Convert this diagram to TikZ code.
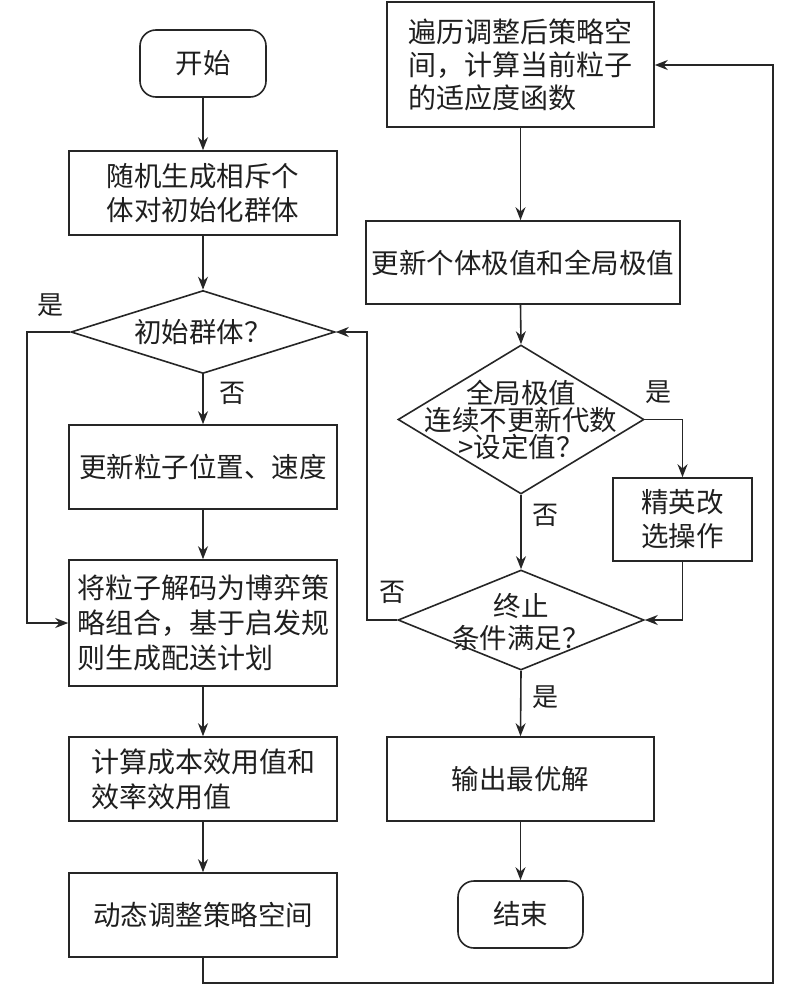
\documentclass[tikz,border=0pt]{standalone}
\usepackage{fontspec}
\newfontfamily\cjk{Noto Sans CJK SC}
\usetikzlibrary{shapes.geometric,arrows.meta}
\tikzset{
  base/.style={draw=black!85, line width=1.6pt, inner sep=0pt, font=\cjk\fontsize{27.5}{34}\selectfont, text=black!88},
  proc/.style={base, rectangle, minimum width=268pt, minimum height=84pt, align=left},
  term/.style={base, rectangle, rounded corners=16pt, minimum width=126pt, minimum height=67pt},
  dia/.style={base, diamond},
  txt/.style={inner sep=0pt, font=\cjk\fontsize{27.5}{34}\selectfont, text=black!88, align=center},
  lbl/.style={inner sep=0pt, font=\cjk\fontsize{26}{30}\selectfont, text=black!88},
  conn/.style={draw=black!85, line width=1.6pt, -{Stealth[length=13pt,width=10pt]}},
  plain/.style={draw=black!85, line width=1.6pt}
}
\begin{document}
\begin{tikzpicture}[x=1pt,y=-1pt]
\useasboundingbox[fill=white] (0,0) rectangle (800,985);
% left column
\node[term] (start) at (203,63.5) {开始};
\node[proc] (b1) at (203,193) {随机生成相斥个\\体对初始化群体};
\node[dia, minimum width=264pt, minimum height=83pt] (d1) at (203,332) {};
\node[txt] at (d1) {初始群体？};
\node[proc] (b2) at (203,467) {更新粒子位置、速度};
\node[proc, minimum height=126pt, font=\cjk\fontsize{28}{35}\selectfont] (b3) at (203,623) {将粒子解码为博弈策\\略组合，基于启发规\\则生成配送计划};
\node[proc, font=\cjk\fontsize{28}{35}\selectfont] (b4) at (203,779) {计算成本效用值和\\效率效用值};
\node[proc] (b5) at (203,915) {动态调整策略空间};
% right column
\node[proc, minimum width=267pt, minimum height=125pt, font=\cjk\fontsize{28}{33}\selectfont] (r1) at (520.5,64.5) {遍历调整后策略空\\间，计算当前粒子\\的适应度函数};
\node[proc, minimum width=314pt, minimum height=83pt] (r2) at (523,262.5) {更新个体极值和全局极值};
\node[dia, minimum width=246pt, minimum height=149pt] (d2) at (521,419.5) {};
\node[txt, font=\cjk\fontsize{27.5}{27}\selectfont] at (d2) {全局极值\\连续不更新代数\\>设定值？};
\node[proc, minimum width=139pt, minimum height=83pt] (el) at (682.5,519.5) {精英改\\选操作};
\node[dia, minimum width=246pt, minimum height=100pt] (d3) at (521,620) {};
\node[txt, font=\cjk\fontsize{27.5}{32}\selectfont] at ([yshift=-2pt]d3) {终止\\条件满足？};
\node[proc, minimum width=267pt] (out) at (520.5,779) {输出最优解};
\node[term, minimum width=125pt] (end) at (520.5,914.5) {结束};
% labels
\node[lbl] (l1) at (50,305) {是};
\node[lbl] (l2) at (232,393) {否};
\node[lbl] (l3) at (658,392) {是};
\node[lbl] (l4) at (545,515) {否};
\node[lbl] (l5) at (392,592) {否};
\node[lbl] (l6) at (545,697) {是};
\coordinate (cA) at (27,332);
\coordinate (cB) at (27,623);
\coordinate (cC) at (203,983);
\coordinate (cD) at (773,983);
\coordinate (cE) at (773,65);
\coordinate (cF) at (682.5,419.5);
\coordinate (cG) at (682.5,620);
\coordinate (cH) at (367,620);
\coordinate (cI) at (367,332);
% connectors
\draw[conn] (start) -- (b1);
\draw[conn] (b1) -- (d1);
\draw[conn] (d1) -- (b2);
\draw[conn] (b2) -- (b3);
\draw[conn] (b3) -- (b4);
\draw[conn] (b4) -- (b5);
\draw[conn] (d1.west) -- (cA) -- (cB) -- (b3.west);
\draw[conn] (b5.south) -- (cC) -- (cD) -- (cE) -- (r1.east |- cE);
\draw[conn] (r1.south) -- (r1.south |- r2.north);
\draw[conn] (r1.south |- r2.south) -- (d2.north);
\draw[conn] (d2.east) -- (cF) -- (el.north);
\draw[conn] (d2.south) -- (d3.north);
\draw[conn] (el.south) -- (cG) -- (d3.east);
\draw[conn] (d3.west) -- (cH) -- (cI) -- (d1.east);
\draw[conn] (d3.south) -- (out.north);
\draw[conn] (out.south) -- (end.north);
\end{tikzpicture}
\end{document}
